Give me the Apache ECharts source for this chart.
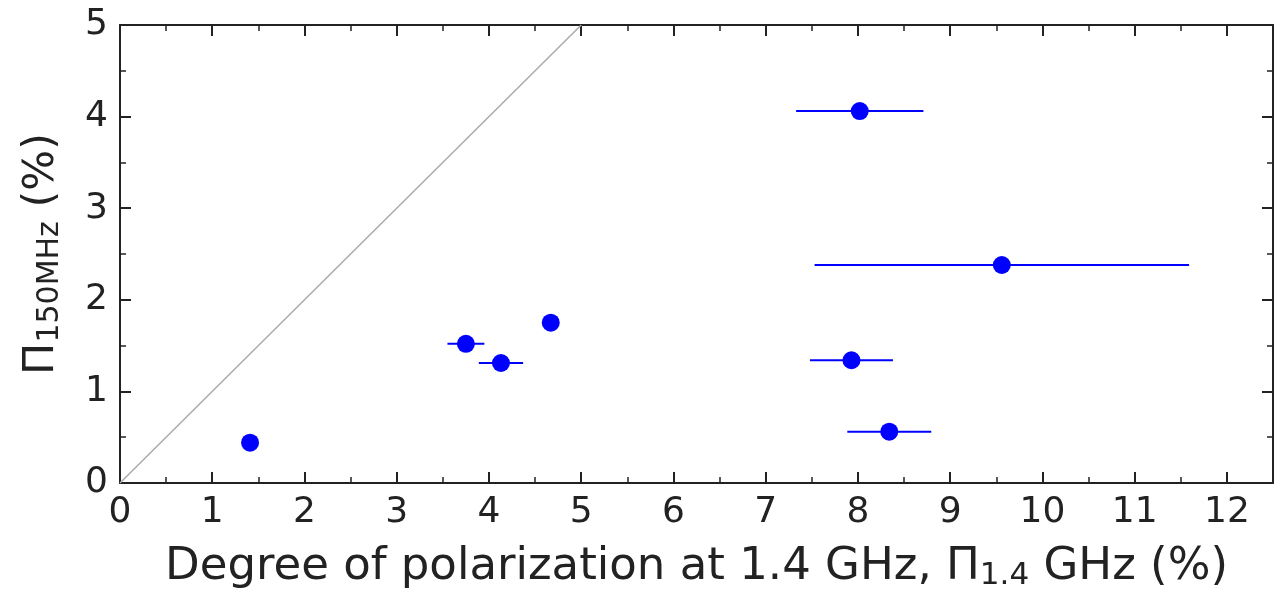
<!DOCTYPE html>
<html>
<head>
<meta charset="utf-8">
<script src="https://cdn.jsdelivr.net/npm/echarts@6/dist/echarts.min.js"></script>
<style>
  html, body { margin: 0; padding: 0; background: #fff; }
  #chart { width: 1283px; height: 590px; }
</style>
</head>
<body>
<div id="chart"></div>
<script>
// Polarization at 1.4 GHz vs 150 MHz, with horizontal error bars.
const xVals = [1.41, 3.75, 4.13, 4.67, 8.02, 9.56, 7.93, 8.34];
const yVals = [0.44, 1.52, 1.31, 1.75, 4.06, 2.38, 1.34, 0.56];
const xErr = [0, 0.20, 0.24, 0, 0.69, 2.03, 0.45, 0.455];
const oneToOne = [[0, 0], [5, 5]];

const font = "DejaVu Sans";
const ink = "#222";

let points = xVals.map((x, i) => [x, yVals[i]]);
let bars = xVals.map((x, i) => [x - xErr[i], x + xErr[i], yVals[i]]);

let axisCommon = (min, max) => ({
  type: "value",
  min: min,
  max: max,
  interval: 1,
  splitLine: { show: false },
  axisLine: { show: true, onZero: false, lineStyle: { color: ink, width: 2 } },
  axisTick: { show: true, inside: true, length: 11, lineStyle: { color: ink, width: 2 } },
  minorTick: { show: true, splitNumber: 2, length: 6, lineStyle: { color: ink, width: 1.5 } },
});

let chart = echarts.init(document.getElementById("chart"), null, { renderer: "canvas" });

chart.setOption({
  animation: false,
  grid: { left: 120, right: 10, top: 25, bottom: 107, containLabel: false, outerBoundsMode: "none" },
  xAxis: [
    {
      ...axisCommon(0, 12.5),
      position: "bottom",
      axisLabel: {
        fontFamily: font, fontSize: 36, color: ink, margin: 12,
        formatter: (v) => (v > 12 ? "" : v),
      },
      name: "Degree of polarization at 1.4 GHz, {p|Π}{sub|1.4} GHz (%)",
      nameLocation: "middle",
      nameGap: 61,
      nameTextStyle: {
        fontFamily: font, fontSize: 45, color: ink,
        rich: {
          p: { fontFamily: font, fontSize: 45, color: ink },
          sub: { fontFamily: font, fontSize: 31, color: ink, padding: [16, 0, 0, 0] },
        },
      },
    },
    {
      ...axisCommon(0, 12.5),
      position: "top",
      axisLabel: { show: false },
    },
  ],
  yAxis: [
    {
      ...axisCommon(0, 5),
      position: "left",
      axisLabel: { fontFamily: font, fontSize: 36, color: ink, margin: 12 },
      name: "Π{sub|150MHz} (%)",
      nameLocation: "middle",
      nameGap: 55,
      nameTextStyle: {
        fontFamily: font, fontSize: 43, color: ink,
        rich: {
          sub: { fontFamily: font, fontSize: 30, color: ink, padding: [16, 0, 0, 0] },
        },
      },
    },
    {
      ...axisCommon(0, 5),
      position: "right",
      axisLabel: { show: false },
    },
  ],
  series: [
    {
      type: "line",
      data: oneToOne,
      showSymbol: false,
      lineStyle: { color: "#aaaaaa", width: 1.5 },
      z: 1,
    },
    {
      type: "custom",
      data: bars,
      encode: { x: [0, 1], y: 2 },
      renderItem: (params, api) => {
        let a = api.coord([api.value(0), api.value(2)]);
        let b = api.coord([api.value(1), api.value(2)]);
        return {
          type: "line",
          shape: { x1: a[0], y1: a[1], x2: b[0], y2: b[1] },
          style: { stroke: "#0000ff", lineWidth: 2 },
        };
      },
      z: 2,
    },
    {
      type: "scatter",
      data: points,
      symbol: "circle",
      symbolSize: 18,
      itemStyle: { color: "#0000ff", opacity: 1 },
      z: 3,
    },
  ],
});
</script>
</body>
</html>
